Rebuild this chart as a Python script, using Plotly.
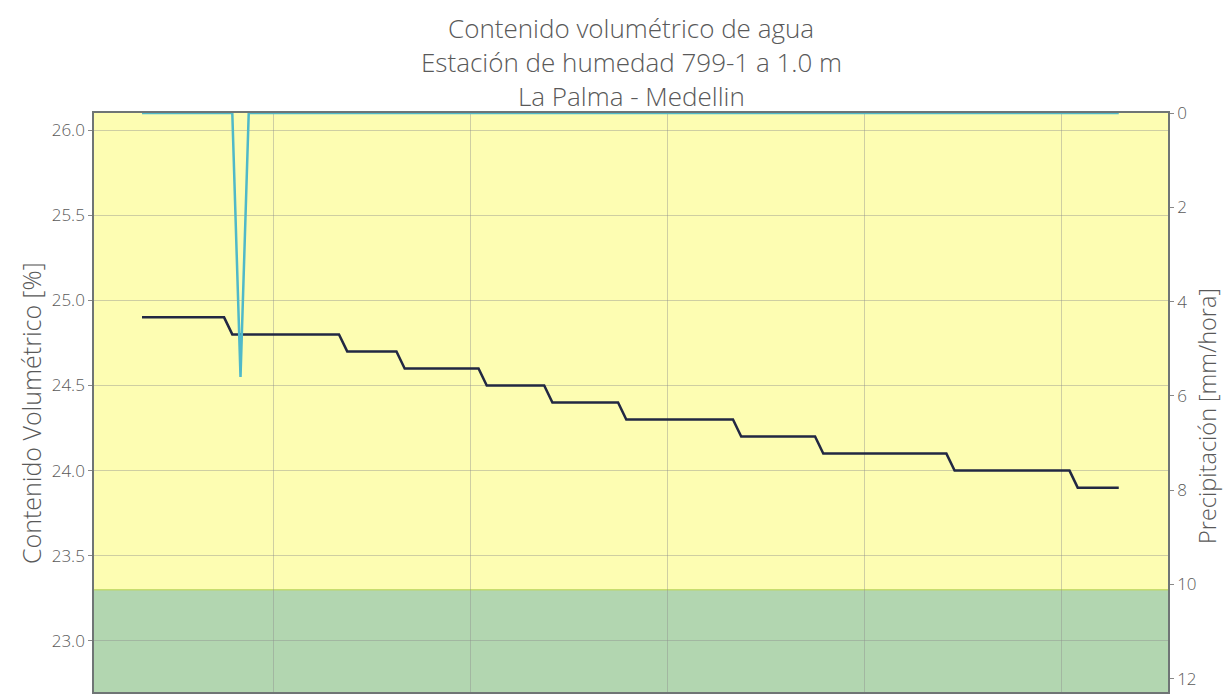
import pandas as pd
import plotly.graph_objects as go

# Hourly soil-moisture readings, stored as step levels and how many hours each lasts
moisture_levels = [24.9, 24.8, 24.7, 24.6, 24.5, 24.4, 24.3, 24.2, 24.1, 24.0, 23.9]
moisture_hours = [11, 14, 7, 10, 8, 9, 14, 10, 16, 15, 6]

# Hourly rainfall (mm/hora): one shower in the record
rain_hour_index = [12]
rain_amount = [5.6]

title_lines = [
    "Contenido volumétrico de agua",
    "Estación de humedad 799-1 a 1.0 m",
    "La Palma - Medellin",
]

start = pd.Timestamp("2021-05-10 08:00")
moisture = [lvl for lvl, n in zip(moisture_levels, moisture_hours) for _ in range(n)]
times = pd.date_range(start, periods=len(moisture), freq="h")
rain = [0.0] * len(moisture)
for i, v in zip(rain_hour_index, rain_amount):
    rain[i] = v

threshold = 23.3
y_range = [22.7, 26.1]
rain_range = [12.28, 0]

W, H = 1223, 694
M_L, M_R, M_T, M_B = 94, 55, 113, 2
plot_w = W - M_L - M_R
plot_h = H - M_T - M_B


def px_to_paper_x(px):
    return (px - M_L) / plot_w


def px_to_paper_y(py):
    return (H - M_B - py) / plot_h


font_family = "'Open Sans', Lato, sans-serif"
text_color = "#595959"
grid_color = "rgba(140,140,140,0.42)"

fig = go.Figure()
fig.add_trace(go.Scatter(
    x=times, y=moisture, mode="lines",
    line=dict(color="#222843", width=2.5),
    name="Contenido volumétrico", showlegend=False,
))
fig.add_trace(go.Scatter(
    x=times, y=rain, mode="lines", yaxis="y2",
    line=dict(color="#4fb9c9", width=2.5),
    name="Precipitación", showlegend=False,
))

# Background bands: wet zone above the threshold, green below it
fig.add_shape(type="rect", xref="paper", yref="y", x0=0, x1=1,
              y0=threshold, y1=y_range[1], layer="below",
              fillcolor="#fdfdb2", line=dict(width=0))
fig.add_shape(type="rect", xref="paper", yref="y", x0=0, x1=1,
              y0=y_range[0], y1=threshold, layer="below",
              fillcolor="#b2d6b0", line=dict(width=0))
fig.add_shape(type="line", xref="paper", yref="y", x0=0, x1=1,
              y0=threshold, y1=threshold, layer="below",
              line=dict(color="rgba(190,215,90,0.8)", width=1.5))

# Heading, one annotation per line
for line, py in zip(title_lines, [28, 62, 96]):
    fig.add_annotation(
        text=line, xref="paper", yref="paper",
        x=0.5, y=px_to_paper_y(py), xanchor="center", yanchor="middle",
        showarrow=False,
        font=dict(size=26, color=text_color, family=font_family, weight=300),
    )

# Axis titles
fig.add_annotation(
    text="Contenido Volumétrico [%]", textangle=-90,
    xref="paper", yref="paper", x=px_to_paper_x(31), y=px_to_paper_y(413),
    xanchor="center", yanchor="middle", showarrow=False,
    font=dict(size=25, color=text_color, family=font_family, weight=300),
)
fig.add_annotation(
    text="Precipitación [mm/hora]", textangle=-90,
    xref="paper", yref="paper", x=px_to_paper_x(1207), y=px_to_paper_y(416),
    xanchor="center", yanchor="middle", showarrow=False,
    font=dict(size=23.5, color=text_color, family=font_family, weight=300),
)

fig.update_layout(
    width=W, height=H,
    margin=dict(l=M_L, r=M_R, t=M_T, b=M_B),
    paper_bgcolor="white", plot_bgcolor="white",
    font=dict(family=font_family, color=text_color),
    xaxis=dict(
        type="date",
        range=[start - pd.Timedelta(hours=5.85), start + pd.Timedelta(hours=125)],
        dtick=86400000, tick0="2021-05-11",
        showgrid=True, gridcolor=grid_color, gridwidth=1,
        showticklabels=False, ticks="",
        showline=True, linecolor="#6f7575", linewidth=1.5, mirror=True,
        zeroline=False,
    ),
    yaxis=dict(
        range=y_range, dtick=0.5, tickformat=".1f",
        showgrid=True, gridcolor=grid_color, gridwidth=1,
        ticks="outside", ticklen=4, tickcolor="#888888",
        tickfont=dict(size=17, color=text_color, weight=300),
        showline=True, linecolor="#6f7575", linewidth=1.5,
        zeroline=False,
    ),
    yaxis2=dict(
        overlaying="y", side="right",
        range=rain_range, dtick=2,
        showgrid=False, zeroline=False,
        ticks="outside", ticklen=4, tickcolor="#888888",
        tickfont=dict(size=17, color=text_color, weight=300),
        showline=True, linecolor="#6f7575", linewidth=1.5,
    ),
)

fig.write_html("out.html")
